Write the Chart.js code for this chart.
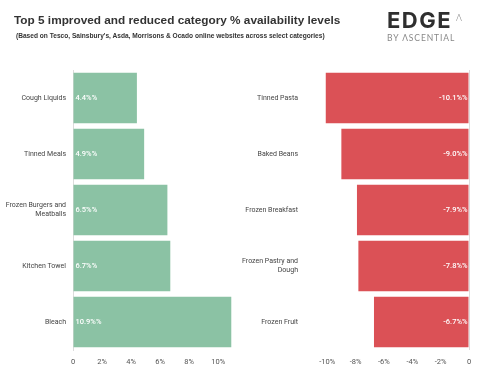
<!DOCTYPE html>
<html>
<head>
<meta charset="utf-8">
<script src="https://cdn.jsdelivr.net/npm/chart.js@4.4.1/dist/chart.umd.min.js"></script>
<style>
    html, body { margin: 0; padding: 0; background: #fff; }
    body { width: 480px; height: 376px; position: relative; overflow: hidden; }
    .chart-box { position: absolute; top: 0; width: 240px; height: 376px; }
    #leftBox { left: 0; }
    #rightBox { left: 240px; }
    .title { position: absolute; left: 14px; top: 13px; font: bold 11.8px "Liberation Sans", Arial, sans-serif; color: #333; white-space: nowrap; z-index: 2; }
    .subtitle { position: absolute; left: 16px; top: 32px; font: bold 6.6px "Liberation Sans", Arial, sans-serif; color: #333; white-space: nowrap; z-index: 2; }
    .logo { position: absolute; left: 387px; top: 7px; z-index: 2; }
    .logo-edge { font-family: Inter, sans-serif; font-size: 22px; font-weight: 700; color: #2f2f2f; letter-spacing: 1.5px; line-height: 26px; }
    .logo-caret { position: absolute; left: 69px; top: 5px; font-family: Lato, sans-serif; font-size: 9px; font-weight: 300; color: #777; }
    .logo-by { font-family: Lato, sans-serif; font-size: 8.5px; color: #888; letter-spacing: 0.9px; line-height: 10px; margin-top: 0; }
</style>
</head>
<body>
<div class="title">Top 5 improved and reduced category % availability levels</div>
<div class="subtitle">(Based on Tesco, Sainsbury's, Asda, Morrisons &amp; Ocado online websites across select categories)</div>
<div class="logo">
    <div class="logo-edge">EDGE</div>
    <div class="logo-caret">Λ</div>
    <div class="logo-by">BY ΛSCENTIAL</div>
</div>
<div class="chart-box" id="leftBox"><canvas id="improvedChart"></canvas></div>
<div class="chart-box" id="rightBox"><canvas id="reducedChart"></canvas></div>

<script>
// 개선된 카테고리 (왼쪽)
const leftCategories = ['Cough Liquids', 'Tinned Meals', ['Frozen Burgers and', 'Meatballs'], 'Kitchen Towel', 'Bleach'];
const leftValues = [4.4, 4.9, 6.5, 6.7, 10.9];
const leftTicks = [0, 2, 4, 6, 8, 10];

// 감소한 카테고리 (오른쪽)
const rightCategories = ['Tinned Pasta', 'Baked Beans', 'Frozen Breakfast', ['Frozen Pastry and', 'Dough'], 'Frozen Fruit'];
const rightValues = [-10.1, -9.0, -7.9, -7.8, -6.7];
const rightTicks = [-10, -8, -6, -4, -2, 0];

const FONT = 'Roboto, "Noto Sans", sans-serif';

// 막대 안에 값 표시하는 플러그인
const valueLabels = {
    id: 'valueLabels',
    afterDatasetsDraw(chart) {
        const ctx = chart.ctx;
        const meta = chart.getDatasetMeta(0);
        const values = chart.data.datasets[0].data;
        ctx.save();
        ctx.fillStyle = '#fff';
        ctx.font = '500 7.5px ' + FONT;
        ctx.textBaseline = 'middle';
        meta.data.forEach(function (bar, i) {
            const text = values[i].toFixed(1) + '%%';
            if (values[i] >= 0) {
                ctx.textAlign = 'left';
                ctx.fillText(text, bar.base + 2, bar.y);
            } else {
                ctx.textAlign = 'right';
                ctx.fillText(text, bar.base - 1, bar.y);
            }
        });
        ctx.restore();
    }
};

function makeChart(canvasId, labels, values, color, min, max, ticks, yPad, padRight, zeroLine) {
    return new Chart(document.getElementById(canvasId), {
        type: 'bar',
        data: {
            labels: labels,
            datasets: [{
                data: values,
                backgroundColor: color,
                borderWidth: 0,
                barPercentage: 0.9,
                categoryPercentage: 1
            }]
        },
        options: {
            indexAxis: 'y',
            responsive: true,
            maintainAspectRatio: false,
            animation: false,
            layout: { padding: { top: 70, right: padRight, left: 0, bottom: 0 } },
            plugins: {
                legend: { display: false },
                tooltip: { enabled: false }
            },
            scales: {
                x: {
                    min: min,
                    max: max,
                    afterBuildTicks: function (scale) {
                        scale.ticks = ticks.map(v => ({ value: v }));
                    },
                    afterFit: function (scale) { scale.height = 26; },
                    grid: {
                        drawTicks: false,
                        color: function (c) {
                            return (zeroLine && c.tick && c.tick.value === 0) ? '#dcdcdc' : 'rgba(0,0,0,0)';
                        }
                    },
                    border: { display: false },
                    ticks: {
                        padding: 8,
                        color: '#555',
                        font: { family: FONT, size: 7.5 },
                        callback: function (v) { return v === 0 ? '0' : v + '%'; }
                    }
                },
                y: {
                    afterFit: function (scale) { scale.width = 73; },
                    grid: { display: false, drawTicks: false },
                    border: { display: !zeroLine, color: '#dcdcdc' },
                    ticks: {
                        padding: yPad,
                        color: '#444',
                        font: { family: FONT, size: 7, lineHeight: 1.25 }
                    }
                }
            }
        },
        plugins: [valueLabels]
    });
}

makeChart('improvedChart', leftCategories, leftValues, '#8bc2a4', 0, 11.5, leftTicks, 7, 0, false);
makeChart('reducedChart', rightCategories, rightValues, '#db5156', -11, 0, rightTicks, 15, 11, true);
</script>
</body>
</html>
